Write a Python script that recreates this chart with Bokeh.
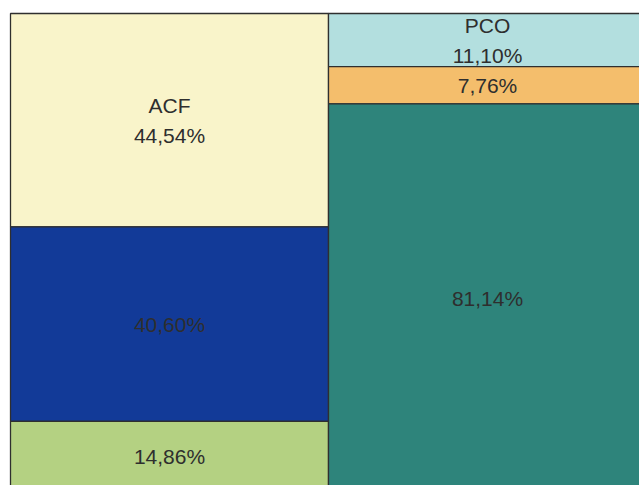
from bokeh.plotting import figure
from bokeh.models import ColumnDataSource, Range1d
from bokeh.core.properties import value
from bokeh.embed import file_html
from bokeh.resources import INLINE

# Share of each segment within its column, listed top to bottom (percent)
groups = ["ACF", "PCO"]
acf_shares = [44.54, 40.60, 14.86]
pco_shares = [11.10, 7.76, 81.14]
acf_colors = ["#F9F4CA", "#123A98", "#B4D182"]
pco_colors = ["#B3DFDF", "#F4BE6C", "#2E847B"]

rects = dict(left=[], right=[], bottom=[], top=[], color=[])
labels = dict(x=[], y=[], text=[])

for i, (name, shares, colors) in enumerate(
        [(groups[0], acf_shares, acf_colors), (groups[1], pco_shares, pco_colors)]):
    top = 100.0
    for j, (s, c) in enumerate(zip(shares, colors)):
        bottom = top - s
        rects["left"].append(i)
        rects["right"].append(i + 1)
        rects["bottom"].append(bottom)
        rects["top"].append(top)
        rects["color"].append(c)
        txt = f"{s:.2f}%".replace(".", ",")
        if j == 0:
            txt = name + "\n" + txt
        labels["x"].append(i + 0.5)
        labels["y"].append((top + bottom) / 2)
        labels["text"].append(txt)
        top = bottom

p = figure(width=639, height=485, output_backend="svg", toolbar_location=None,
           x_axis_location=None, y_axis_location=None,
           x_range=Range1d(-10 / 318, 629 / 318),
           y_range=Range1d(100 - 472 / 479 * 100, 100 + 13 / 479 * 100),
           min_border=0, outline_line_color=None,
           background_fill_color="white", border_fill_color="white")
p.xgrid.visible = False
p.ygrid.visible = False

p.quad(left="left", right="right", bottom="bottom", top="top",
       fill_color="color", line_color="#2f2f2f", line_width=1.3,
       source=ColumnDataSource(rects))

p.text(x="x", y="y", text="text", source=ColumnDataSource(labels),
       text_font=value("Liberation Sans"), text_font_size="21px",
       text_color="#2e2e2e", text_align="center", text_baseline="middle",
       text_line_height=1.3)

open("out.html", "w").write(file_html(p, INLINE))
